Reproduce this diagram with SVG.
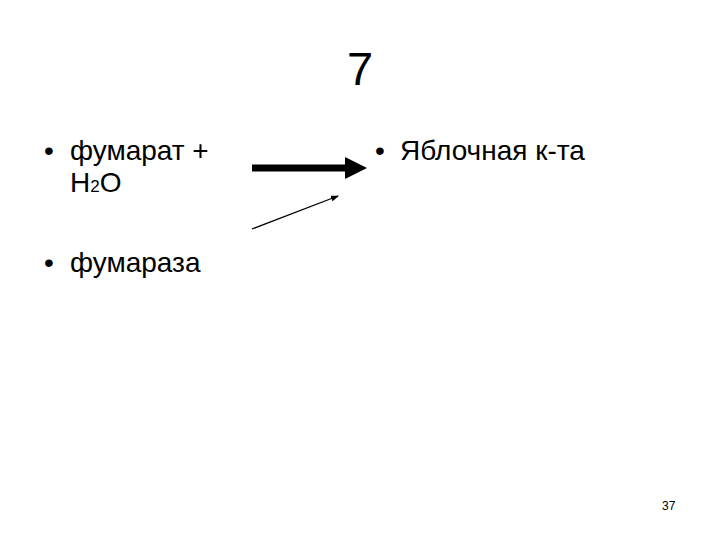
<svg xmlns="http://www.w3.org/2000/svg" width="720" height="540" viewBox="0 0 720 540">
<style>
text{font-family:"Liberation Sans",Arial,sans-serif;fill:#000}
.b{font-size:28px}
</style>
<defs>
<marker id="thin" markerWidth="8" markerHeight="6" refX="7" refY="3" orient="auto" markerUnits="userSpaceOnUse"><path d="M0,0 L8,3 L0,6 Z" fill="#000"/></marker>
</defs>
<rect width="720" height="540" fill="#fff"/>
<g id="title"><text x="360" y="85" font-size="47" text-anchor="middle">7</text></g>
<g id="left">
<text class="b" x="44" y="160">•</text>
<text class="b" x="70" y="160">фумарат +</text>
<text class="b" x="70" y="192">H<tspan font-size="17">2</tspan>O</text>
</g>
<g id="right">
<text class="b" x="375" y="160">•</text>
<text class="b" x="400" y="160">Яблочная к-та</text>
</g>
<g id="enzyme">
<text class="b" x="44" y="272">•</text>
<text class="b" x="70" y="272">фумараза</text>
</g>
<g id="connectors">
<line x1="252" y1="168" x2="347" y2="168" stroke="#000" stroke-width="7"/>
<polygon points="345,157 367,168 345,179" fill="#000"/>
<line x1="252" y1="229" x2="338" y2="196" stroke="#000" stroke-width="1.3" marker-end="url(#thin)"/>
</g>
<g id="page"><text x="662" y="510" font-size="12">37</text></g>
</svg>
